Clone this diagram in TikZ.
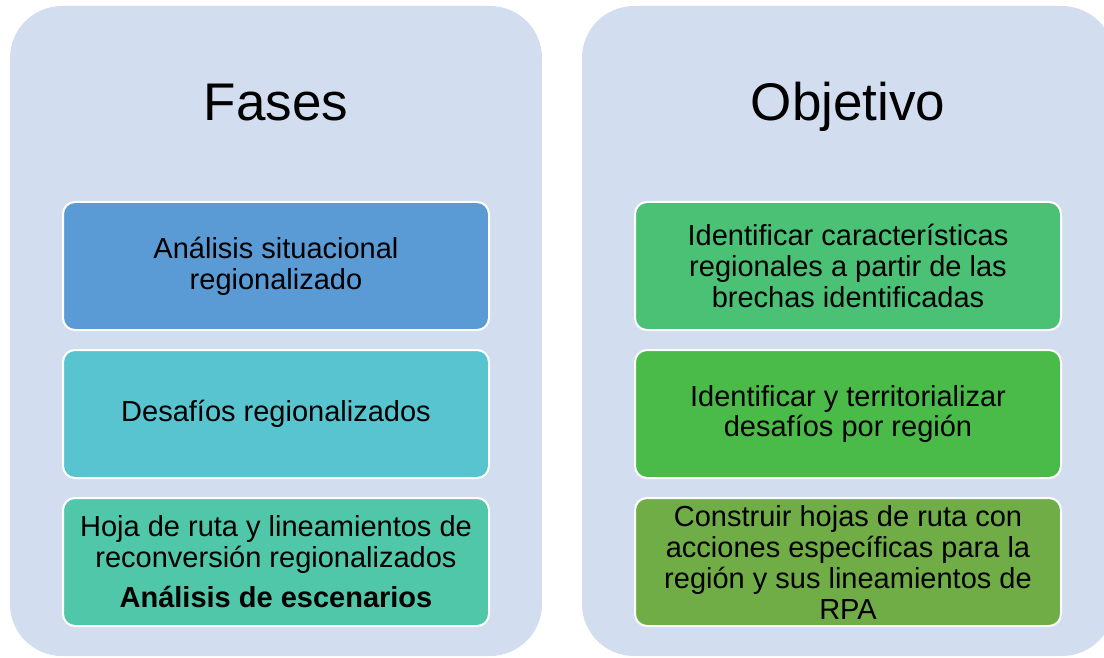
\documentclass[tikz,border=0pt]{standalone}
\usepackage{fontspec}
\setmainfont{Liberation Sans}
\usetikzlibrary{positioning}

\definecolor{panelbg}{RGB}{210,222,239}
\definecolor{faseA}{RGB}{91,155,213}
\definecolor{faseB}{RGB}{87,196,208}
\definecolor{faseC}{RGB}{80,199,168}
\definecolor{objA}{RGB}{74,193,117}
\definecolor{objB}{RGB}{74,186,72}
\definecolor{objC}{RGB}{112,173,71}

\tikzset{
  panel/.style={fill=panelbg, rounded corners=52pt, minimum width=532pt,
    minimum height=650pt, inner sep=0pt},
  heading/.style={anchor=base, font=\fontsize{53}{58}\selectfont},
  card/.style={draw=white, line width=2pt, rounded corners=12pt,
    minimum width=426pt, minimum height=128pt, inner sep=0pt,
    align=center, font=\fontsize{29}{31}\selectfont}
}

\begin{document}
\begin{tikzpicture}[x=1pt, y=-1pt]
  \useasboundingbox (0,0) rectangle (1104,658);

  % Panels
  \node [panel] (fases) at (276,331) {};
  \node [panel] (objetivo) at (848,331) {};
  \node [heading] (tfases) at (276,121) {Fases};
  \node [heading] (tobjetivo) at (848,121) {Objetivo};

  % Fases
  \node [card, fill=faseA] (f1) at (276,266) {Análisis situacional\\regionalizado};
  \node [card, fill=faseB, below=18pt of f1] (f2) {Desafíos regionalizados};
  \node [card, fill=faseC, below=18pt of f2] (f3)
    {Hoja de ruta y lineamientos de\\reconversión regionalizados\\[9pt]\textbf{Análisis de escenarios}};

  % Objetivo
  \node [card, fill=objA, right=144pt of f1] (o1)
    {Identificar características\\regionales a partir de las\\brechas identificadas};
  \node [card, fill=objB, below=18pt of o1] (o2)
    {Identificar y territorializar\\desafíos por región};
  \node [card, fill=objC, below=18pt of o2] (o3)
    {Construir hojas de ruta con\\acciones específicas para la\\región y sus lineamientos de\\RPA};
\end{tikzpicture}
\end{document}
